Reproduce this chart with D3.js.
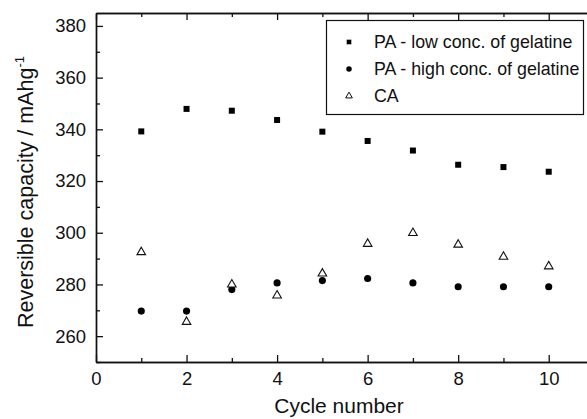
<!DOCTYPE html>
<html>
<head>
<meta charset="utf-8">
<script src="https://cdn.jsdelivr.net/npm/d3@7"></script>
<style>
  body { margin: 0; background: #fff; }
  svg { display: block; }
  text { font-family: "Liberation Sans", Arial, sans-serif; fill: #111; }
</style>
</head>
<body>
<script>
// Reversible capacity over the first ten cycles for three electrode types
const cycles = [1, 2, 3, 4, 5, 6, 7, 8, 9, 10];
const paLow  = [339.2, 347.9, 347.2, 343.6, 339.1, 335.5, 331.8, 326.3, 325.4, 323.6];
const paHigh = [269.7, 269.7, 278.0, 280.6, 281.5, 282.3, 280.6, 279.1, 279.1, 279.1];
const ca     = [292.5, 265.5, 280.0, 275.7, 284.2, 295.7, 299.9, 295.4, 290.7, 287.0];
const seriesNames = ["PA - low conc. of gelatine", "PA - high conc. of gelatine", "CA"];
const xTicks = [0, 2, 4, 6, 8, 10];
const xMinorTicks = [1, 3, 5, 7, 9];
const yTicks = [260, 280, 300, 320, 340, 360, 380];
const yMinorTicks = [250, 270, 290, 310, 330, 350, 370];
const xTitle = "Cycle number";
const yTitle = "Reversible capacity / mAhg";
const yTitleSup = "-1";

const W = 587, H = 419;
const plotL = 96, plotR = 594, plotT = 13, plotB = 362;

const svg = d3.select("body").append("svg")
  .attr("width", W).attr("height", H);

const x = d3.scaleLinear().domain([0, 11]).range([plotL, plotR]);
const y = d3.scaleLinear().domain([250, 385]).range([plotB, plotT]);

const tickFont = 18.5;

function styleAxis(g) {
  g.selectAll(".domain").attr("stroke", "#111").attr("stroke-width", 1.4);
  g.selectAll(".tick line").attr("stroke", "#111").attr("stroke-width", 1.3);
  g.selectAll(".tick text").attr("font-size", tickFont).attr("fill", "#111")
    .attr("font-family", "Liberation Sans, Arial, sans-serif");
}

// bottom axis with labels, ticks pointing inward
svg.append("g").attr("transform", `translate(0,${plotB})`)
  .call(d3.axisBottom(x).tickValues(xTicks).tickSize(-7).tickSizeOuter(0).tickPadding(10))
  .call(styleAxis);
svg.append("g").attr("transform", `translate(0,${plotB})`)
  .call(d3.axisBottom(x).tickValues(xMinorTicks).tickSize(-4).tickSizeOuter(0).tickFormat(""))
  .call(styleAxis);

// top axis, ticks only
svg.append("g").attr("transform", `translate(0,${plotT})`)
  .call(d3.axisTop(x).tickValues(xTicks).tickSize(-7).tickSizeOuter(0).tickFormat(""))
  .call(styleAxis);
svg.append("g").attr("transform", `translate(0,${plotT})`)
  .call(d3.axisTop(x).tickValues(xMinorTicks).tickSize(-4).tickSizeOuter(0).tickFormat(""))
  .call(styleAxis);

// left axis with labels
svg.append("g").attr("transform", `translate(${plotL},0)`)
  .call(d3.axisLeft(y).tickValues(yTicks).tickSize(-7).tickSizeOuter(0).tickPadding(10))
  .call(styleAxis);
svg.append("g").attr("transform", `translate(${plotL},0)`)
  .call(d3.axisLeft(y).tickValues(yMinorTicks).tickSize(-4).tickSizeOuter(0).tickFormat(""))
  .call(styleAxis);

// right axis
svg.append("g").attr("transform", `translate(${plotR},0)`)
  .call(d3.axisRight(y).tickValues(yTicks).tickSize(-7).tickSizeOuter(0).tickFormat(""))
  .call(styleAxis);

// axis titles
svg.append("text")
  .attr("x", 339).attr("y", 413)
  .attr("text-anchor", "middle")
  .attr("font-size", 21)
  .text(xTitle);

const yt = svg.append("text")
  .attr("transform", "translate(33,192) rotate(-90)")
  .attr("text-anchor", "middle")
  .attr("font-size", 21.5);
yt.append("tspan").text(yTitle);
yt.append("tspan").attr("font-size", 13).attr("dy", -9).text(yTitleSup);

// markers
const series = [
  { name: seriesNames[0], values: paLow,  type: d3.symbolSquare,   size: 36, fill: "#000", stroke: "none" },
  { name: seriesNames[1], values: paHigh, type: d3.symbolCircle,   size: 40, fill: "#000", stroke: "none" },
  { name: seriesNames[2], values: ca,     type: d3.symbolTriangle, size: 32, fill: "#fff", stroke: "#111" }
];

series.forEach(s => {
  svg.append("g").selectAll("path")
    .data(cycles.map((c, i) => [c, s.values[i]]))
    .join("path")
    .attr("transform", d => `translate(${x(d[0])},${y(d[1])})`)
    .attr("d", d3.symbol().type(s.type).size(s.size))
    .attr("fill", s.fill)
    .attr("stroke", s.stroke)
    .attr("stroke-width", 1.1);
});

// legend
const lg = svg.append("g");
lg.append("rect")
  .attr("x", 326.5).attr("y", 20.5).attr("width", 257).attr("height", 94)
  .attr("fill", "#fff").attr("stroke", "#111").attr("stroke-width", 1.2);

const legendRows = [42, 69, 96];
series.forEach((s, i) => {
  lg.append("path")
    .attr("transform", `translate(349,${legendRows[i]})`)
    .attr("d", d3.symbol().type(s.type).size(s.size * 0.6))
    .attr("fill", s.fill)
    .attr("stroke", s.stroke)
    .attr("stroke-width", 1);
  lg.append("text")
    .attr("x", 374).attr("y", legendRows[i])
    .attr("dy", "0.35em")
    .attr("font-size", 17.8)
    .text(s.name);
});
</script>
</body>
</html>
